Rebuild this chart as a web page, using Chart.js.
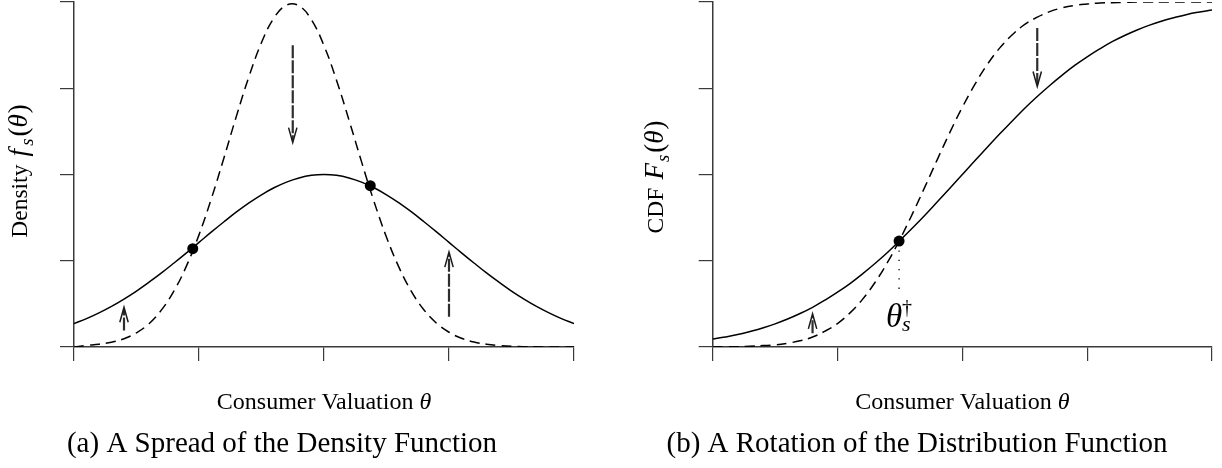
<!DOCTYPE html>
<html><head><meta charset="utf-8">
<script src="https://cdn.jsdelivr.net/npm/chart.js@4/dist/chart.umd.min.js"></script>
<style>
html,body{margin:0;padding:0;background:#fff;}
#wrap{position:relative;width:1222px;height:468px;overflow:hidden;}
canvas{position:absolute;top:0;}
</style></head><body>
<div id="wrap">
<canvas id="ca" width="611" height="468" style="left:0px;width:611px;height:468px"></canvas>
<canvas id="cb" width="611" height="468" style="left:611px;width:611px;height:468px"></canvas>
</div>
<script>
// ---- data ----
const xGrid = [0,0.1,0.2,0.3,0.4,0.5,0.6,0.7,0.8,0.9,1.0,1.1,1.2,1.3,1.4,1.5,1.6,1.7,1.8,1.9,2.0,
               2.1,2.2,2.3,2.4,2.5,2.6,2.7,2.8,2.9,3.0,3.1,3.2,3.3,3.4,3.5,3.6,3.7,3.8,3.9,4.0];
const densitySolid = [0.271,0.329,0.396,0.471,0.556,0.649,0.751,0.859,0.974,1.092,1.213,1.334,1.452,1.566,1.671,1.765,1.846,1.912,1.960,1.990,2.000,
                      1.990,1.960,1.912,1.846,1.765,1.671,1.566,1.452,1.334,1.213,1.092,0.974,0.859,0.751,0.649,0.556,0.471,0.396,0.329,0.271];
const densityDashed = [0.000,0.018,0.032,0.055,0.095,0.165,0.270,0.430,0.650,0.940,1.300,1.725,2.195,2.680,3.137,3.530,3.816,3.964,3.956,3.793,3.494,
                       3.094,2.631,2.149,1.687,1.273,0.923,0.642,0.430,0.276,0.171,0.101,0.058,0.032,0.017,0.008,0.004,0.002,0.001,0.000,0.000];
const cdfSolid = [0.023,0.029,0.036,0.045,0.055,0.067,0.081,0.097,0.115,0.136,0.159,0.184,0.212,0.242,0.274,0.309,0.345,0.382,0.421,0.460,0.500,
                  0.540,0.579,0.618,0.655,0.692,0.726,0.758,0.788,0.816,0.841,0.864,0.885,0.903,0.919,0.933,0.945,0.955,0.964,0.971,0.977];
const cdfDashed = [0.000,0.001,0.001,0.002,0.004,0.006,0.011,0.018,0.029,0.046,0.068,0.099,0.138,0.187,0.245,0.312,0.386,0.464,0.544,0.622,0.695,
                   0.761,0.819,0.867,0.905,0.935,0.956,0.972,0.983,0.990,0.994,0.997,0.998,0.999,1.000,1.000,1.000,1.000,1.000,1.000,1.000];
// crossing points
const densityDotX = [0.95, 2.37];
const densityDotY = [1.14, 1.87];
const cdfDotX = [1.493];
const cdfDotY = [0.307];
const cdfDottedY = [0.307, 0.16];
// arrows: [x, from, to]
const densityArrows = [[1.75, 3.50, 2.37], [0.40, 0.19, 0.46], [3.00, 0.35, 1.10]];
const cdfArrows = [[0.80, 0.04, 0.096], [2.60, 0.925, 0.755]];
// axis ticks
const xTicks = [0,1,2,3,4];
const densityTicks = [0,1,2,3,4];
const cdfTicks = [0,0.25,0.5,0.75,1];
// texts: [text, italic, sizeFactor, dyEm, gapAfterPx]
const yTitleA = [['Density',0],[' ',0,1.4],['f',1,1.15,0,3],['s',1,0.8,0.25,2],['(',0,1.15],['θ',1,1.15,0,1],[')',0,1.15]];
const yTitleB = [['CDF',0],[' ',0,1.4],['F',1,1.15,0,1],['s',1,0.8,0.25,2],['(',0,1.15],['θ',1,1.15,0,1],[')',0,1.15]];
const xTitle = [['Consumer Valuation ',0],['θ',1]];
const captionA = [['(a) A Spread of the Density Function',0]];
const captionB = [['(b) A Rotation of the Distribution Function',0]];
const pivotLabel = ['θ','s','†'];

// ---- drawing helpers ----
const FAM = '"Liberation Serif","Times New Roman",serif';
function fnt(s,size){ return (s[1]?'italic ':'')+(size*(s[2]||1))+'px '+FAM; }
function richWidth(ctx,segs,size){ let w=0; for(const s of segs){ctx.font=fnt(s,size); w+=ctx.measureText(s[0]).width+(s[4]||0);} return w; }
function drawRich(ctx,segs,x,y,size,rot){
  ctx.save(); ctx.translate(x,y); if(rot) ctx.rotate(rot);
  ctx.textBaseline='alphabetic'; ctx.textAlign='left'; ctx.fillStyle='#000';
  let cx=-richWidth(ctx,segs,size)/2;
  for(const s of segs){ ctx.font=fnt(s,size); ctx.fillText(s[0],cx,(s[3]||0)*size); cx+=ctx.measureText(s[0]).width+(s[4]||0); }
  ctx.restore();
}
function drawArrow(ctx,chart,a){
  const xs=chart.scales.x, ys=chart.scales.y;
  const px=xs.getPixelForValue(a[0]), p0=ys.getPixelForValue(a[1]), p1=ys.getPixelForValue(a[2]);
  const dir=Math.sign(p1-p0);
  ctx.save();
  ctx.strokeStyle='#2e2e2e'; ctx.lineWidth=2.2; ctx.setLineDash([13,2]);
  ctx.beginPath(); ctx.moveTo(px,p0); ctx.lineTo(px,p1-dir*2); ctx.stroke();
  ctx.setLineDash([]); ctx.lineWidth=1.5; ctx.strokeStyle='#1a1a1a';
  ctx.beginPath(); ctx.moveTo(px-4.2,p1-dir*15); ctx.lineTo(px,p1); ctx.lineTo(px+4.2,p1-dir*15); ctx.stroke();
  ctx.restore();
}

function lineDS(ys,dash){
  return {data:xGrid.map((x,i)=>({x,y:ys[i]})),showLine:true,borderColor:'#000',borderWidth:1.5,
          pointRadius:0,tension:0.4,borderDash:dash||[],fill:false};
}
function axisOpts(ticksArr,min,max,fitFn){
  return {type:'linear',min,max,
    afterBuildTicks:s=>{s.ticks=ticksArr.map(v=>({value:v}));},
    ticks:{display:false},
    grid:{drawOnChartArea:false,drawTicks:true,tickLength:14,color:'#3a3a3a',lineWidth:1.2},
    border:{display:true,color:'#3a3a3a',width:1.5},
    afterFit:fitFn};
}
function makeChart(id,cfg){
  return new Chart(document.getElementById(id),{
    type:'scatter',
    data:{datasets:cfg.datasets},
    options:{
      responsive:false,animation:false,devicePixelRatio:1,events:[],
      layout:{padding:cfg.pad,autoPadding:false},
      plugins:{legend:{display:false},tooltip:{enabled:false},title:{display:false}},
      scales:{
        x:axisOpts(xTicks,0,4,s=>{s.height=15;}),
        y:axisOpts(cfg.yTicks,0,cfg.ymax,s=>{s.width=14;})
      }
    },
    plugins:[{id:'extras',
      afterDatasetsDraw(chart){ const ctx=chart.ctx; cfg.arrows.forEach(a=>drawArrow(ctx,chart,a)); },
      afterDraw(chart){ cfg.texts(chart.ctx,chart); }
    }]
  });
}

const dotDS=(xs,ys)=>({data:xs.map((x,i)=>({x,y:ys[i]})),showLine:false,pointRadius:5.5,
  pointBackgroundColor:'#000',pointBorderColor:'#000',pointBorderWidth:0});

makeChart('ca',{
  pad:{left:60,right:37,top:2,bottom:106},
  yTicks:densityTicks,ymax:4,
  datasets:[lineDS(densitySolid),lineDS(densityDashed,[10,6]),dotDS(densityDotX,densityDotY)],
  arrows:densityArrows,
  texts(ctx,chart){
    drawRich(ctx,yTitleA,27,171,23.5,-Math.PI/2);
    drawRich(ctx,xTitle,(chart.chartArea.left+chart.chartArea.right)/2,409,24,0);
    drawRich(ctx,captionA,282,452,29,0);
  }
});

makeChart('cb',{
  pad:{left:87.7,right:10,top:2,bottom:106},
  yTicks:cdfTicks,ymax:1,
  datasets:[lineDS(cdfSolid),lineDS(cdfDashed,[10,6]),
    {data:cdfDottedY.map(y=>({x:cdfDotX[0],y})),showLine:true,borderColor:'#000',borderWidth:1.3,borderDash:[1.3,8],pointRadius:0},
    dotDS(cdfDotX,cdfDotY)],
  arrows:cdfArrows,
  texts(ctx,chart){
    drawRich(ctx,yTitleB,52,177,23.5,-Math.PI/2);
    drawRich(ctx,xTitle,(chart.chartArea.left+chart.chartArea.right)/2,409,24,0);
    drawRich(ctx,captionB,306,452,29,0);
    const dx=chart.scales.x.getPixelForValue(cdfDotX[0]);
    ctx.save(); ctx.fillStyle='#000'; ctx.textBaseline='alphabetic'; ctx.textAlign='left';
    ctx.font='italic 33px '+FAM; ctx.fillText(pivotLabel[0],dx-13,327);
    ctx.font='italic 22px '+FAM; ctx.fillText(pivotLabel[1],dx+3,331);
    ctx.font='20px '+FAM; ctx.fillText(pivotLabel[2],dx+3,314);
    ctx.restore();
  }
});
</script>
</body></html>
